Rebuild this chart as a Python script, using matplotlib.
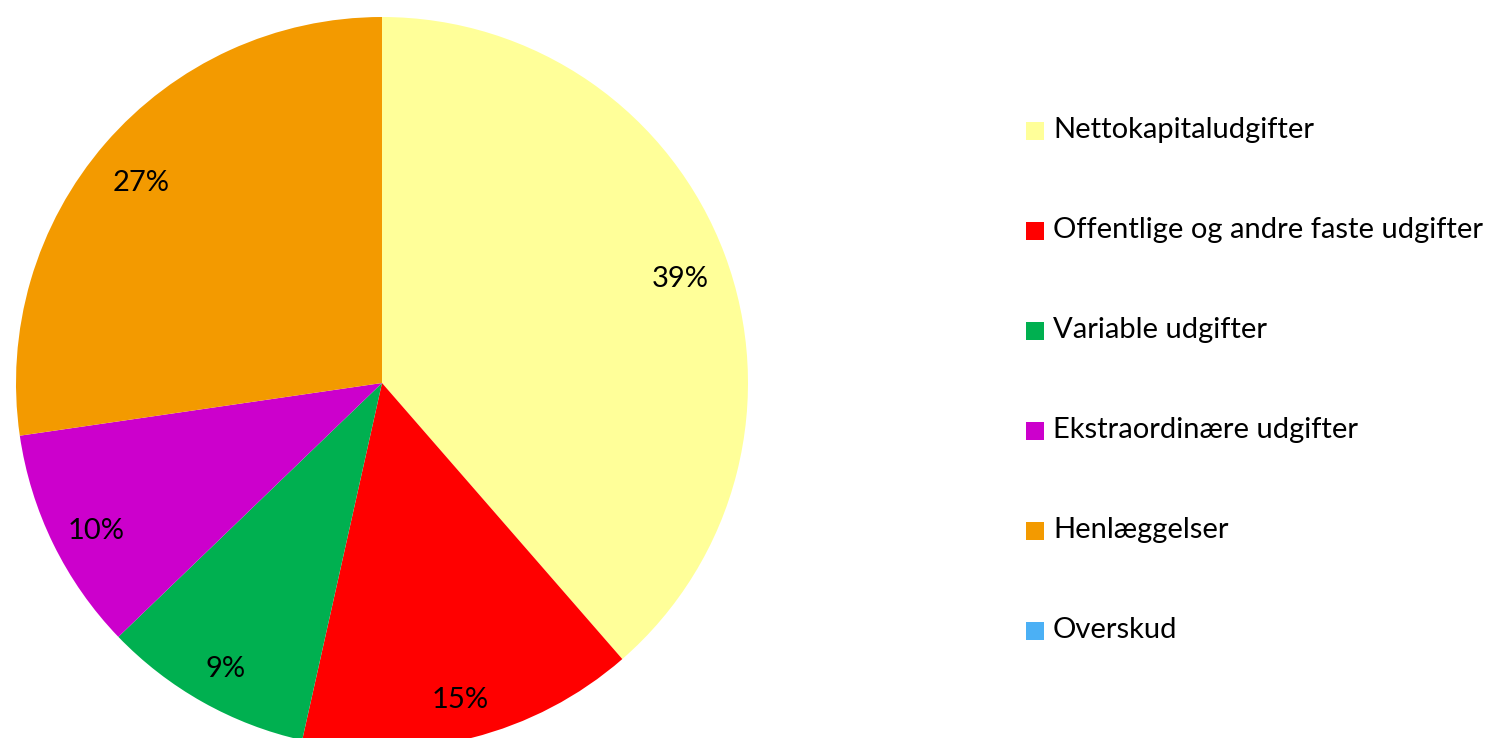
import matplotlib
matplotlib.use("Agg")
import matplotlib.pyplot as plt
from matplotlib.patches import Rectangle

plt.rcParams['font.family'] = ['Lato', 'DejaVu Sans']

categories = ["Nettokapitaludgifter", "Offentlige og andre faste udgifter",
              "Variable udgifter", "Ekstraordinære udgifter",
              "Henlæggelser", "Overskud"]
shares = [38.6, 14.9, 9.3, 9.9, 27.3, 0.0]
colors = ["#FFFF99", "#FF0000", "#00B050", "#CC00CC", "#F39A00", "#4BB0F5"]

fig = plt.figure(figsize=(14.91, 7.38), dpi=100)
ax = fig.add_axes([16 / 1491, -11 / 738, 732 / 1491, 732 / 738])


def pct_label(p):
    return f"{p:.0f}%" if p >= 0.5 else ""


wedges, texts, autotexts = ax.pie(
    shares, colors=colors, startangle=90, counterclock=False,
    autopct=pct_label, pctdistance=0.87, radius=1.0,
    wedgeprops=dict(linewidth=0),
    textprops=dict(fontsize=21, color="black"))
# nudge labels a touch lower, like the original
for t in autotexts:
    x, y = t.get_position()
    t.set_position((x, y - 0.022))
ax.set_xlim(-1, 1)
ax.set_ylim(-1, 1)
ax.set_aspect("equal")
ax.axis("off")

# legend drawn by hand, one row per category
for i, (name, col) in enumerate(zip(categories, colors)):
    y = 1 - (130 + 100 * i) / 738
    fig.patches.append(Rectangle((1026 / 1491, y - 10 / 738), 18 / 1491, 18 / 738,
                                 transform=fig.transFigure, facecolor=col,
                                 edgecolor="none"))
    fig.text(1053 / 1491, y, name, fontsize=21, va="center", ha="left")

fig.savefig("out.png", dpi=100)
